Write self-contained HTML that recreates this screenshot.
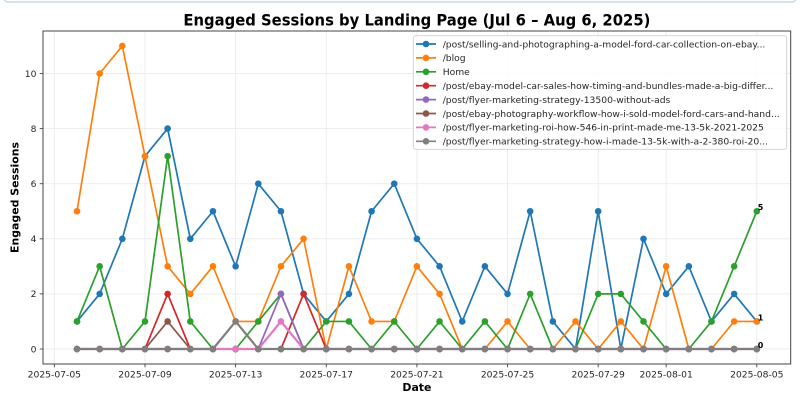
<!DOCTYPE html>
<html>
<head>
<meta charset="utf-8">
<style>
html,body{margin:0;padding:0;background:#fff;}
svg{display:block;}
text{font-family:"DejaVu Sans","Liberation Sans",sans-serif;}
</style>
</head>
<body>
<svg width="800" height="400" viewBox="0 0 800 400" xmlns="http://www.w3.org/2000/svg">
<defs>
<marker id="m0" viewBox="-4 -4 8 8" refX="0" refY="0" markerWidth="8" markerHeight="8" markerUnits="userSpaceOnUse"><circle r="3.3" fill="#1f77b4"/></marker>
<marker id="m1" viewBox="-4 -4 8 8" refX="0" refY="0" markerWidth="8" markerHeight="8" markerUnits="userSpaceOnUse"><circle r="3.3" fill="#ff7f0e"/></marker>
<marker id="m2" viewBox="-4 -4 8 8" refX="0" refY="0" markerWidth="8" markerHeight="8" markerUnits="userSpaceOnUse"><circle r="3.3" fill="#2ca02c"/></marker>
<marker id="m3" viewBox="-4 -4 8 8" refX="0" refY="0" markerWidth="8" markerHeight="8" markerUnits="userSpaceOnUse"><circle r="3.3" fill="#d62728"/></marker>
<marker id="m4" viewBox="-4 -4 8 8" refX="0" refY="0" markerWidth="8" markerHeight="8" markerUnits="userSpaceOnUse"><circle r="3.3" fill="#9467bd"/></marker>
<marker id="m5" viewBox="-4 -4 8 8" refX="0" refY="0" markerWidth="8" markerHeight="8" markerUnits="userSpaceOnUse"><circle r="3.3" fill="#8c564b"/></marker>
<marker id="m6" viewBox="-4 -4 8 8" refX="0" refY="0" markerWidth="8" markerHeight="8" markerUnits="userSpaceOnUse"><circle r="3.3" fill="#e377c2"/></marker>
<marker id="m7" viewBox="-4 -4 8 8" refX="0" refY="0" markerWidth="8" markerHeight="8" markerUnits="userSpaceOnUse"><circle r="3.3" fill="#7f7f7f"/></marker>
</defs>

<rect x="0" y="0" width="800" height="400" fill="#fff"/>
<!-- top container border -->
<rect x="4" y="-20" width="792" height="22" rx="4" fill="none" stroke="#a9c3e6" stroke-width="1"/>

<!-- title -->
<text x="416.9" y="25.5" text-anchor="middle" font-size="16" font-weight="bold" fill="#000" textLength="467" lengthAdjust="spacingAndGlyphs">Engaged Sessions by Landing Page (Jul 6 – Aug 6, 2025)</text>

<!-- grid -->
<g stroke="#ebebeb" stroke-width="0.9">
<line x1="54.34" y1="31" x2="54.34" y2="364"/>
<line x1="145" y1="31" x2="145" y2="364"/>
<line x1="235.62" y1="31" x2="235.62" y2="364"/>
<line x1="326.26" y1="31" x2="326.26" y2="364"/>
<line x1="416.9" y1="31" x2="416.9" y2="364"/>
<line x1="507.54" y1="31" x2="507.54" y2="364"/>
<line x1="598.18" y1="31" x2="598.18" y2="364"/>
<line x1="666.16" y1="31" x2="666.16" y2="364"/>
<line x1="756.8" y1="31" x2="756.8" y2="364"/>
<line x1="43" y1="349" x2="790.7" y2="349"/>
<line x1="43" y1="293.9" x2="790.7" y2="293.9"/>
<line x1="43" y1="238.8" x2="790.7" y2="238.8"/>
<line x1="43" y1="183.7" x2="790.7" y2="183.7"/>
<line x1="43" y1="128.6" x2="790.7" y2="128.6"/>
<line x1="43" y1="73.5" x2="790.7" y2="73.5"/>
</g>

<!-- series -->
<g fill="none" stroke-width="1.7" stroke-linejoin="round">
<polyline stroke="#1f77b4" marker-start="url(#m0)" marker-mid="url(#m0)" marker-end="url(#m0)" points="77,321.45 99.66,293.9 122.32,238.8 144.98,156.15 167.64,128.6 190.3,238.8 212.96,211.25 235.62,266.35 258.28,183.7 280.94,211.25 303.6,293.9 326.26,321.45 348.92,293.9 371.58,211.25 394.24,183.7 416.9,238.8 439.56,266.35 462.22,321.45 484.88,266.35 507.54,293.9 530.2,211.25 552.86,321.45 575.52,349 598.18,211.25 620.84,349 643.5,238.8 666.16,293.9 688.82,266.35 711.48,321.45 734.14,293.9 756.8,321.45"/>
<polyline stroke="#ff7f0e" marker-start="url(#m1)" marker-mid="url(#m1)" marker-end="url(#m1)" points="77,211.25 99.66,73.5 122.32,45.95 144.98,156.15 167.64,266.35 190.3,293.9 212.96,266.35 235.62,321.45 258.28,321.45 280.94,266.35 303.6,238.8 326.26,349 348.92,266.35 371.58,321.45 394.24,321.45 416.9,266.35 439.56,293.9 462.22,349 484.88,349 507.54,321.45 530.2,349 552.86,349 575.52,321.45 598.18,349 620.84,321.45 643.5,349 666.16,266.35 688.82,349 711.48,349 734.14,321.45 756.8,321.45"/>
<polyline stroke="#2ca02c" marker-start="url(#m2)" marker-mid="url(#m2)" marker-end="url(#m2)" points="77,321.45 99.66,266.35 122.32,349 144.98,321.45 167.64,156.15 190.3,321.45 212.96,349 235.62,349 258.28,321.45 280.94,293.9 303.6,349 326.26,321.45 348.92,321.45 371.58,349 394.24,321.45 416.9,349 439.56,321.45 462.22,349 484.88,321.45 507.54,349 530.2,293.9 552.86,349 575.52,349 598.18,293.9 620.84,293.9 643.5,321.45 666.16,349 688.82,349 711.48,321.45 734.14,266.35 756.8,211.25"/>
<polyline stroke="#d62728" marker-start="url(#m3)" marker-mid="url(#m3)" marker-end="url(#m3)" points="77,349 99.66,349 122.32,349 144.98,349 167.64,293.9 190.3,349 212.96,349 235.62,349 258.28,349 280.94,349 303.6,293.9 326.26,349 348.92,349 371.58,349 394.24,349 416.9,349 439.56,349 462.22,349 484.88,349 507.54,349 530.2,349 552.86,349 575.52,349 598.18,349 620.84,349 643.5,349 666.16,349 688.82,349 711.48,349 734.14,349 756.8,349"/>
<polyline stroke="#9467bd" marker-start="url(#m4)" marker-mid="url(#m4)" marker-end="url(#m4)" points="77,349 99.66,349 122.32,349 144.98,349 167.64,349 190.3,349 212.96,349 235.62,349 258.28,349 280.94,293.9 303.6,349 326.26,349 348.92,349 371.58,349 394.24,349 416.9,349 439.56,349 462.22,349 484.88,349 507.54,349 530.2,349 552.86,349 575.52,349 598.18,349 620.84,349 643.5,349 666.16,349 688.82,349 711.48,349 734.14,349 756.8,349"/>
<polyline stroke="#8c564b" marker-start="url(#m5)" marker-mid="url(#m5)" marker-end="url(#m5)" points="77,349 99.66,349 122.32,349 144.98,349 167.64,321.45 190.3,349 212.96,349 235.62,349 258.28,349 280.94,349 303.6,349 326.26,349 348.92,349 371.58,349 394.24,349 416.9,349 439.56,349 462.22,349 484.88,349 507.54,349 530.2,349 552.86,349 575.52,349 598.18,349 620.84,349 643.5,349 666.16,349 688.82,349 711.48,349 734.14,349 756.8,349"/>
<polyline stroke="#e377c2" stroke-width="2.2" marker-start="url(#m6)" marker-mid="url(#m6)" marker-end="url(#m6)" points="77,349 99.66,349 122.32,349 144.98,349 167.64,349 190.3,349 212.96,349 235.62,349 258.28,349 280.94,321.45 303.6,349 326.26,349 348.92,349 371.58,349 394.24,349 416.9,349 439.56,349 462.22,349 484.88,349 507.54,349 530.2,349 552.86,349 575.52,349 598.18,349 620.84,349 643.5,349 666.16,349 688.82,349 711.48,349 734.14,349 756.8,349"/>
<polyline stroke="#7f7f7f" stroke-width="2.2" marker-start="url(#m7)" marker-mid="url(#m7)" marker-end="url(#m7)" points="77,349 99.66,349 122.32,349 144.98,349 167.64,349 190.3,349 212.96,349 235.62,321.45 258.28,349 280.94,349 303.6,349 326.26,349 348.92,349 371.58,349 394.24,349 416.9,349 439.56,349 462.22,349 484.88,349 507.54,349 530.2,349 552.86,349 575.52,349 598.18,349 620.84,349 643.5,349 666.16,349 688.82,349 711.48,349 734.14,349 756.8,349"/>
</g>

<!-- end annotations -->
<g font-size="8" font-weight="bold" fill="#000">
<text x="757.8" y="210.2">5</text>
<text x="757.8" y="320.5">1</text>
<text x="757.8" y="348">0</text>
</g>

<!-- spines -->
<rect x="43" y="31" width="747.7" height="333" fill="none" stroke="#444" stroke-width="1"/>

<!-- ticks -->
<g stroke="#444" stroke-width="0.9">
<line x1="54.34" y1="364" x2="54.34" y2="367.3"/>
<line x1="145" y1="364" x2="145" y2="367.3"/>
<line x1="235.62" y1="364" x2="235.62" y2="367.3"/>
<line x1="326.26" y1="364" x2="326.26" y2="367.3"/>
<line x1="416.9" y1="364" x2="416.9" y2="367.3"/>
<line x1="507.54" y1="364" x2="507.54" y2="367.3"/>
<line x1="598.18" y1="364" x2="598.18" y2="367.3"/>
<line x1="666.16" y1="364" x2="666.16" y2="367.3"/>
<line x1="756.8" y1="364" x2="756.8" y2="367.3"/>
<line x1="39.7" y1="349" x2="43" y2="349"/>
<line x1="39.7" y1="293.9" x2="43" y2="293.9"/>
<line x1="39.7" y1="238.8" x2="43" y2="238.8"/>
<line x1="39.7" y1="183.7" x2="43" y2="183.7"/>
<line x1="39.7" y1="128.6" x2="43" y2="128.6"/>
<line x1="39.7" y1="73.5" x2="43" y2="73.5"/>
</g>

<!-- tick labels -->
<g font-size="9.2" fill="#262626" text-anchor="middle">
<text x="54.34" y="377.3">2025-07-05</text>
<text x="145" y="377.3">2025-07-09</text>
<text x="235.62" y="377.3">2025-07-13</text>
<text x="326.26" y="377.3">2025-07-17</text>
<text x="416.9" y="377.3">2025-07-21</text>
<text x="507.54" y="377.3">2025-07-25</text>
<text x="598.18" y="377.3">2025-07-29</text>
<text x="666.16" y="377.3">2025-08-01</text>
<text x="756.8" y="377.3">2025-08-05</text>
</g>
<g font-size="9.2" fill="#262626" text-anchor="end">
<text x="36.5" y="352.3">0</text>
<text x="36.5" y="297.2">2</text>
<text x="36.5" y="242.1">4</text>
<text x="36.5" y="187">6</text>
<text x="36.5" y="131.9">8</text>
<text x="36.5" y="76.8">10</text>
</g>

<!-- axis labels -->
<text x="416.9" y="391" text-anchor="middle" font-size="10.9" font-weight="bold" fill="#000">Date</text>
<text transform="translate(18.5,197.5) rotate(-90)" x="0" y="0" text-anchor="middle" font-size="10.9" font-weight="bold" fill="#000" textLength="111" lengthAdjust="spacingAndGlyphs">Engaged Sessions</text>

<!-- legend -->
<rect x="413.3" y="35.7" width="373.4" height="113.6" rx="2.5" fill="#fff" fill-opacity="0.85" stroke="#d0d0d0" stroke-width="0.9"/>
<g stroke-width="1.7">
<line x1="416" y1="44" x2="436" y2="44" stroke="#1f77b4"/><circle cx="426" cy="44" r="3.3" fill="#1f77b4" stroke="none"/>
<line x1="416" y1="57.9" x2="436" y2="57.9" stroke="#ff7f0e"/><circle cx="426" cy="57.9" r="3.3" fill="#ff7f0e" stroke="none"/>
<line x1="416" y1="71.8" x2="436" y2="71.8" stroke="#2ca02c"/><circle cx="426" cy="71.8" r="3.3" fill="#2ca02c" stroke="none"/>
<line x1="416" y1="85.7" x2="436" y2="85.7" stroke="#d62728"/><circle cx="426" cy="85.7" r="3.3" fill="#d62728" stroke="none"/>
<line x1="416" y1="99.6" x2="436" y2="99.6" stroke="#9467bd"/><circle cx="426" cy="99.6" r="3.3" fill="#9467bd" stroke="none"/>
<line x1="416" y1="113.5" x2="436" y2="113.5" stroke="#8c564b"/><circle cx="426" cy="113.5" r="3.3" fill="#8c564b" stroke="none"/>
<line x1="416" y1="127.4" x2="436" y2="127.4" stroke="#e377c2"/><circle cx="426" cy="127.4" r="3.3" fill="#e377c2" stroke="none"/>
<line x1="416" y1="141.3" x2="436" y2="141.3" stroke="#7f7f7f"/><circle cx="426" cy="141.3" r="3.3" fill="#7f7f7f" stroke="none"/>
</g>
<g font-size="9.2" fill="#262626">
<text x="442.7" y="47.3">/post/selling-and-photographing-a-model-ford-car-collection-on-ebay...</text>
<text x="442.7" y="61.2">/blog</text>
<text x="442.7" y="75.1">Home</text>
<text x="442.7" y="89">/post/ebay-model-car-sales-how-timing-and-bundles-made-a-big-differ...</text>
<text x="442.7" y="102.9">/post/flyer-marketing-strategy-13500-without-ads</text>
<text x="442.7" y="116.8">/post/ebay-photography-workflow-how-i-sold-model-ford-cars-and-hand...</text>
<text x="442.7" y="130.7">/post/flyer-marketing-roi-how-546-in-print-made-me-13-5k-2021-2025</text>
<text x="442.7" y="144.6">/post/flyer-marketing-strategy-how-i-made-13-5k-with-a-2-380-roi-20...</text>
</g>
</svg>
</body>
</html>
